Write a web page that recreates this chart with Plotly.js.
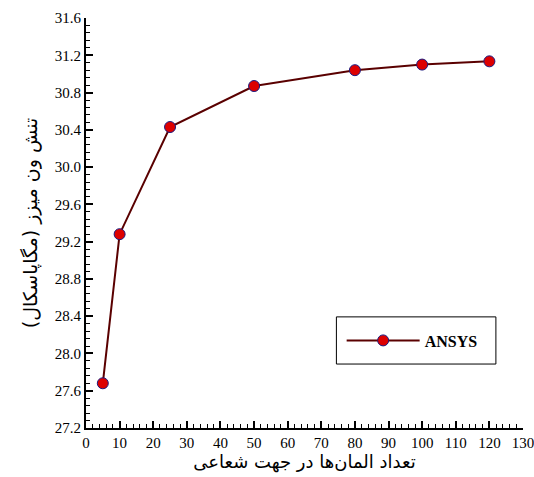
<!DOCTYPE html>
<html>
<head>
<meta charset="utf-8">
<script src="https://cdn.plot.ly/plotly-3.0.1.min.js"></script>
<style>body{margin:0;background:#fff}#chart{width:534px;height:477px}</style>
</head>
<body>
<div id="chart"></div>
<script>
var elements = [5, 10, 25, 50, 80, 100, 120];
var stress = [27.68, 29.28, 30.43, 30.87, 31.04, 31.1, 31.135];

var ansys = {
  x: elements,
  y: stress,
  name: 'ANSYS',
  type: 'scatter',
  mode: 'lines+markers',
  line: {color: '#5a0000', width: 2},
  marker: {color: '#dd0000', size: 11, line: {color: '#1a1a80', width: 1}}
};

var serif = 'Liberation Serif';
var layout = {
  width: 534,
  height: 477,
  font: {family: serif, size: 15, color: '#000'},
  margin: {l: 86, r: 11, t: 18, b: 49, pad: 0},
  paper_bgcolor: '#fff',
  plot_bgcolor: '#fff',
  showlegend: true,
  legend: {
    x: 0.585, y: 0.2134, xanchor: 'left', yanchor: 'middle',
    borderwidth: 0, bgcolor: 'rgba(0,0,0,0)',
    itemwidth: 73,
    font: {family: serif, size: 16, color: '#000', weight: 'bold'}
  },
  shapes: [{
    type: 'rect', xref: 'paper', yref: 'paper',
    x0: 0.573, x1: 0.938, y0: 0.156, y1: 0.271,
    line: {color: '#000', width: 1}, fillcolor: 'rgba(0,0,0,0)'
  }],
  xaxis: {
    range: [0, 130], dtick: 10, tick0: 0,
    showgrid: false, zeroline: false,
    showline: true, linecolor: '#000', linewidth: 2,
    ticks: 'inside', ticklen: 7, tickwidth: 2, tickcolor: '#000',
    minor: {dtick: 2, ticks: 'inside', ticklen: 4, tickwidth: 1, tickcolor: '#000', showgrid: false},
    ticklabeloverflow: 'allow',
    tickfont: {family: serif, size: 15, color: '#000'},
    title: {text: 'تعداد المان‌ها در جهت شعاعی', font: {family: 'DejaVu Sans', size: 18, color: '#000'}, standoff: 4}
  },
  yaxis: {
    range: [27.2, 31.6], dtick: 0.4, tick0: 27.2, tickformat: '.1f',
    showgrid: false, zeroline: false,
    showline: true, linecolor: '#000', linewidth: 2,
    ticks: 'inside', ticklen: 7, tickwidth: 2, tickcolor: '#000',
    minor: {dtick: 0.08, ticks: 'inside', ticklen: 4, tickwidth: 1, tickcolor: '#000', showgrid: false},
    ticklabeloverflow: 'allow',
    tickfont: {family: serif, size: 15, color: '#000'},
    title: {text: 'تنش ون میزز (مگاپاسکال)', font: {family: 'DejaVu Sans', size: 19, color: '#000'}, standoff: 12}
  }
};

Plotly.newPlot('chart', [ansys], layout, {displayModeBar: false});
</script>
</body>
</html>
